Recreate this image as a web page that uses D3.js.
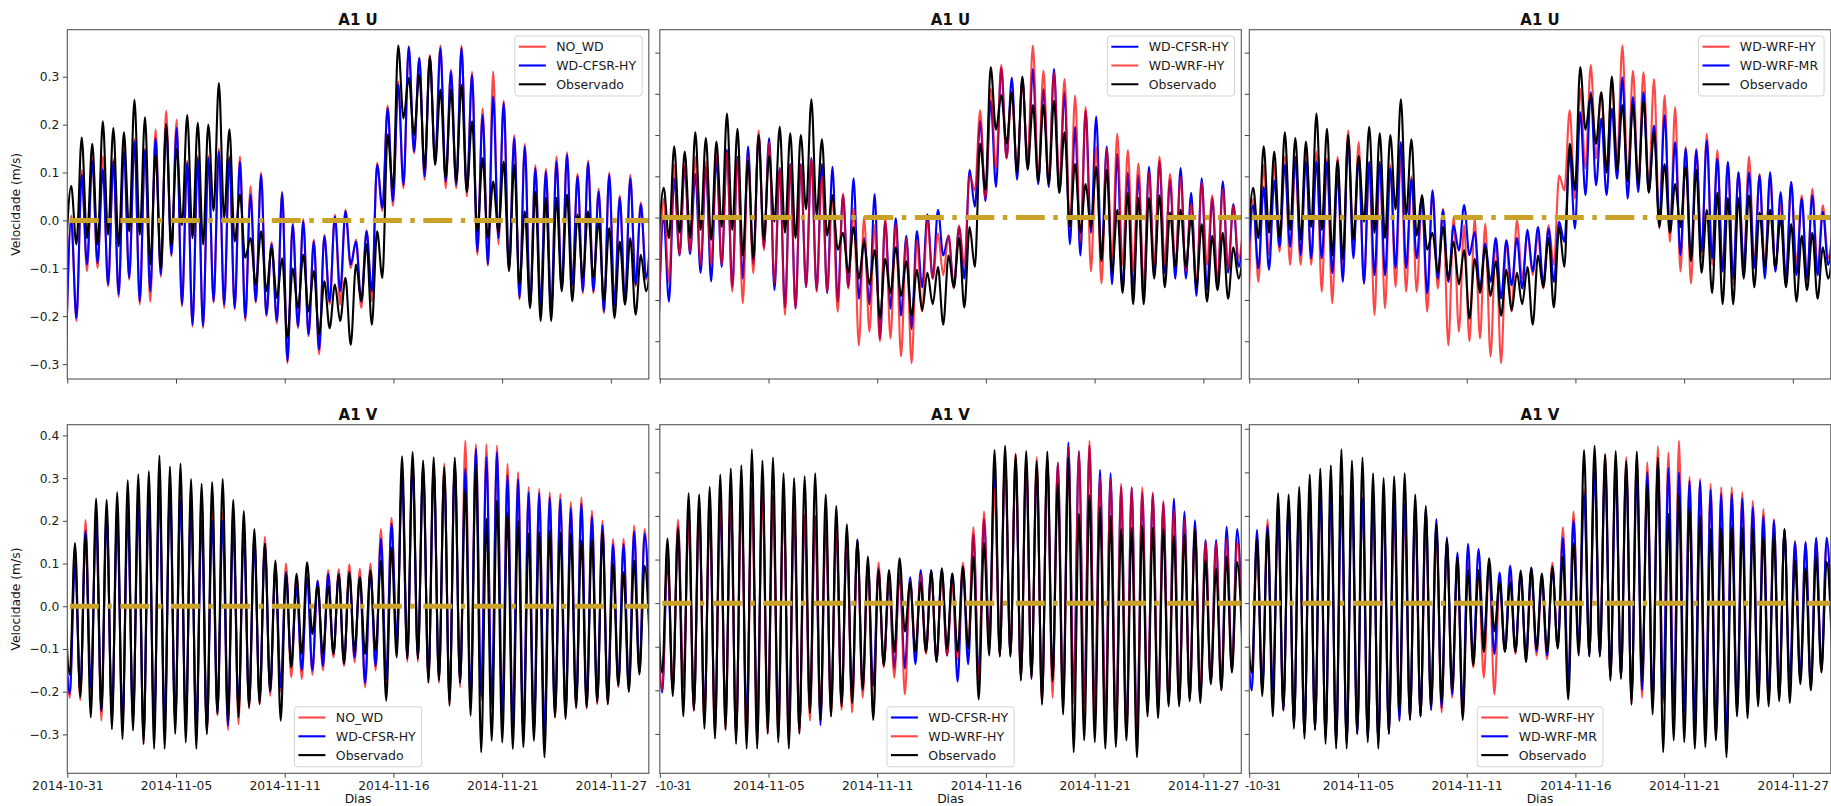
<!DOCTYPE html>
<html>
<head>
<meta charset="utf-8">
<script src="https://cdn.jsdelivr.net/npm/d3@7"></script>
<style>
  body { margin: 0; background: #fff; }
  svg { display: block; font-family: "DejaVu Sans", sans-serif; }
</style>
</head>
<body>
<svg id="chart" width="1831" height="806"></svg>
<script>
// x axis: days since 2014-10-31
const tickDays = [0, 5.333, 10.667, 16, 21.333, 26.667];
const tickLabels = ['2014-10-31', '2014-11-05', '2014-11-11', '2014-11-16', '2014-11-21', '2014-11-27'];
const xEnd = 28.53;
const halfPeriod = 0.2588;          // half an M2 tide, in days (spacing of the extrema)
const uStart = -0.069, vStart = -0.14;
const refLevel = 0;

// ---- U component: troughs (Lo) and crests (Hi), one per tidal cycle ----
const uObsLo = [-0.07,
  -0.05, -0.037, -0.05, -0.03, -0.054, -0.023, -0.03, -0.092, -0.10, -0.054,
  -0.01, -0.037, -0.05, 0.02, 0.005, -0.044, -0.078, -0.134, -0.148, -0.162,
  -0.245, -0.183, -0.19, -0.238, -0.225, -0.21, -0.26, -0.169, -0.218, -0.12,
  0.067, 0.213, 0.179, 0.109, 0.116, 0.088, 0.081, 0.06, -0.023, -0.037,
  -0.023, -0.106, -0.134, -0.183, -0.21, -0.21, -0.148, -0.169, -0.12, -0.12,
  -0.169, -0.204, -0.176, -0.197, -0.148];
const uObsHi = [
  0.072, 0.173, 0.16, 0.207, 0.193, 0.184, 0.252, 0.215, 0.138, 0.2,
  0.15, 0.22, 0.204, 0.2, 0.287, 0.19, 0.054, -0.037, -0.023, -0.058,
  -0.079, -0.1, -0.072, -0.106, -0.127, -0.134, -0.12, -0.092, -0.05, -0.023,
  0.179, 0.365, 0.297, 0.304, 0.342, 0.273, 0.273, 0.283, 0.207, 0.13,
  0.081, 0.123, 0.116, 0.019, 0.06, 0.047, 0.047, 0.054, 0.012, 0.019,
  -0.002, -0.016, -0.044, -0.037, -0.072, -0.06];

const uCfsrLo = [-0.28,
  -0.204, -0.092, -0.089, -0.134, -0.155, -0.12, -0.169, -0.148, -0.113, -0.072,
  -0.176, -0.218, -0.221, -0.169, -0.176, -0.183, -0.204, -0.169, -0.197, -0.21,
  -0.294, -0.221, -0.238, -0.27, -0.169, -0.148, -0.092, -0.169, -0.148, 0.026,
  0.04, 0.074, 0.144, 0.092, 0.123, 0.081, 0.074, 0.06, -0.065, -0.092,
  -0.037, -0.1, -0.162, -0.176, -0.176, -0.19, -0.141, -0.134, -0.148, -0.148,
  -0.19, -0.176, -0.169, -0.134, -0.12];
const uCfsrHi = [
  0.0, 0.095, 0.123, 0.106, 0.123, 0.144, 0.165, 0.147, 0.172, 0.2,
  0.193, 0.12, 0.13, 0.13, 0.144, 0.13, 0.123, 0.054, 0.095, -0.05,
  0.057, -0.009, -0.002, -0.044, -0.033, 0.008, 0.019, -0.044, -0.023, 0.116,
  0.234, 0.283, 0.363, 0.339, 0.339, 0.36, 0.311, 0.36, 0.304, 0.22,
  0.259, 0.245, 0.172, 0.154, 0.109, 0.102, 0.123, 0.137, 0.092, 0.12,
  0.06, 0.095, 0.047, 0.088, 0.033, 0.0];

const uNoWdLo = [-0.29,
  -0.21, -0.106, -0.1, -0.138, -0.16, -0.124, -0.176, -0.17, -0.118, -0.075,
  -0.18, -0.222, -0.225, -0.172, -0.183, -0.186, -0.21, -0.172, -0.2, -0.215,
  -0.298, -0.225, -0.242, -0.28, -0.175, -0.176, -0.1, -0.183, -0.169, 0.02,
  0.03, 0.067, 0.14, 0.085, 0.12, 0.067, 0.067, 0.05, -0.072, -0.095,
  -0.05, -0.105, -0.165, -0.18, -0.18, -0.194, -0.145, -0.138, -0.152, -0.152,
  -0.194, -0.18, -0.172, -0.138, -0.124];
const uNoWdHi = [
  0.01, 0.105, 0.13, 0.134, 0.128, 0.165, 0.17, 0.15, 0.19, 0.229,
  0.21, 0.125, 0.135, 0.135, 0.15, 0.135, 0.134, 0.071, 0.1, -0.045,
  0.06, -0.005, 0.003, -0.04, -0.03, 0.012, 0.022, -0.04, -0.02, 0.12,
  0.24, 0.29, 0.362, 0.34, 0.345, 0.365, 0.315, 0.365, 0.31, 0.234,
  0.311, 0.25, 0.178, 0.16, 0.115, 0.108, 0.134, 0.142, 0.098, 0.125,
  0.066, 0.1, 0.052, 0.095, 0.038, 0.0];

const uWrfHyLo = [-0.29,
  -0.156, -0.091, -0.083, -0.115, -0.115, -0.115, -0.18, -0.208, -0.135, -0.079,
  -0.16, -0.236, -0.22, -0.168, -0.18, -0.18, -0.228, -0.172, -0.31, -0.277,
  -0.30, -0.293, -0.337, -0.353, -0.228, -0.148, -0.14, -0.172, -0.115, 0.066,
  0.046, 0.119, 0.143, 0.119, 0.143, 0.094, 0.086, 0.078, -0.027, -0.059,
  -0.131, -0.16, -0.099, -0.115, -0.131, -0.164, -0.115, -0.115, -0.115, -0.131,
  -0.164, -0.115, -0.156, -0.123, -0.099];
const uWrfHyHi = [
  0.046, 0.127, 0.127, 0.147, 0.135, 0.167, 0.159, 0.143, 0.147, 0.211,
  0.183, 0.119, 0.127, 0.127, 0.143, 0.1, 0.054, 0.058, 0.022, 0.002,
  -0.019, -0.002, -0.015, -0.05, -0.055, -0.006, -0.039, -0.043, -0.019, 0.102,
  0.26, 0.312, 0.37, 0.304, 0.328, 0.417, 0.356, 0.352, 0.336, 0.296,
  0.268, 0.171, 0.167, 0.203, 0.163, 0.131, 0.11, 0.147, 0.106, 0.098,
  0.034, 0.086, 0.054, 0.07, 0.03, 0.0];

const uWrfMrLo = [-0.12,
  -0.123, -0.127, -0.071, -0.071, -0.091, -0.099, -0.099, -0.135, -0.156, -0.099,
  -0.16, -0.14, -0.14, -0.123, -0.123, -0.099, -0.184, -0.148, -0.156, -0.08,
  -0.091, -0.172, -0.156, -0.196, -0.164, -0.172, -0.131, -0.16, -0.156, -0.059,
  -0.027, 0.054, 0.078, 0.054, 0.094, 0.046, 0.062, 0.062, -0.01, -0.035,
  -0.091, -0.099, -0.083, -0.099, -0.131, -0.148, -0.123, -0.123, -0.148, -0.131,
  -0.148, -0.14, -0.148, -0.14, -0.115];
const uWrfMrHi = [
  0.03, 0.074, 0.09, 0.127, 0.147, 0.135, 0.135, 0.135, 0.102, 0.191,
  0.147, 0.135, 0.135, 0.119, 0.183, 0.094, 0.046, 0.066, 0.018, -0.019,
  0.03, -0.035, -0.063, -0.05, -0.055, -0.05, -0.03, -0.023, -0.027, -0.01,
  0.159, 0.256, 0.304, 0.24, 0.264, 0.34, 0.292, 0.304, 0.223, 0.248,
  0.183, 0.167, 0.163, 0.187, 0.143, 0.135, 0.11, 0.11, 0.102, 0.11,
  0.062, 0.086, 0.046, 0.054, 0.014, 0.0];

// ---- V component: crests (Hi) each followed by a trough (Lo) ----
const vObsHi = [0.05,
  0.148, 0.17, 0.252, 0.249, 0.267, 0.295, 0.309, 0.316, 0.353, 0.327,
  0.334, 0.298, 0.287, 0.291, 0.298, 0.249, 0.223, 0.181, 0.146, 0.107,
  0.076, 0.076, 0.103, 0.048, 0.048, 0.075, 0.08, 0.068, 0.084, 0.107,
  0.138, 0.351, 0.361, 0.341, 0.349, 0.326, 0.348, 0.275, 0.334, 0.205,
  0.248, 0.22, 0.2, 0.17, 0.173, 0.177, 0.173, 0.17, 0.154, 0.158,
  0.17, 0.099, 0.08, 0.107, 0.095];
const vObsLo = [-0.16,
  -0.213, -0.26, -0.245, -0.288, -0.311, -0.291, -0.323, -0.334, -0.334, -0.299,
  -0.319, -0.334, -0.299, -0.252, -0.268, -0.26, -0.237, -0.229, -0.198, -0.268,
  -0.143, -0.112, -0.065, -0.112, -0.112, -0.135, -0.104, -0.112, -0.104, -0.221,
  -0.12, -0.123, -0.123, -0.178, -0.174, -0.233, -0.178, -0.256, -0.342, -0.315,
  -0.319, -0.334, -0.33, -0.315, -0.354, -0.26, -0.264, -0.237, -0.237, -0.225,
  -0.229, -0.186, -0.2, -0.159, -0.1];

const vCfsrHi = [0.0,
  0.1, 0.177, 0.2, 0.209, 0.2, 0.216, 0.234, 0.248, 0.267, 0.267,
  0.248, 0.232, 0.2, 0.2, 0.2, 0.185, 0.17, 0.146, 0.146, 0.091,
  0.08, 0.045, 0.068, 0.06, 0.076, 0.076, 0.076, 0.068, 0.08, 0.158,
  0.193, 0.3, 0.33, 0.32, 0.32, 0.31, 0.33, 0.322, 0.369, 0.349,
  0.361, 0.306, 0.298, 0.267, 0.265, 0.255, 0.25, 0.23, 0.24, 0.21,
  0.19, 0.145, 0.145, 0.175, 0.17];
const vCfsrLo = [-0.205,
  -0.2, -0.19, -0.245, -0.25, -0.27, -0.26, -0.303, -0.27, -0.27, -0.27,
  -0.27, -0.28, -0.29, -0.25, -0.28, -0.24, -0.23, -0.22, -0.2, -0.19,
  -0.14, -0.15, -0.15, -0.14, -0.11, -0.13, -0.12, -0.18, -0.14, -0.17,
  -0.08, -0.12, -0.12, -0.17, -0.17, -0.22, -0.18, -0.22, -0.21, -0.23,
  -0.25, -0.28, -0.3, -0.29, -0.3, -0.25, -0.25, -0.23, -0.23, -0.22,
  -0.22, -0.18, -0.19, -0.15, -0.08];

const vNoWdHi = [0.0,
  0.14, 0.202, 0.205, 0.22, 0.22, 0.226, 0.252, 0.252, 0.295, 0.287,
  0.28, 0.26, 0.252, 0.25, 0.22, 0.215, 0.19, 0.163, 0.163, 0.1,
  0.1, 0.07, 0.1, 0.06, 0.085, 0.087, 0.098, 0.088, 0.1, 0.181,
  0.207, 0.3, 0.34, 0.33, 0.33, 0.334, 0.34, 0.388, 0.38, 0.379,
  0.377, 0.334, 0.314, 0.279, 0.275, 0.267, 0.263, 0.244, 0.255, 0.224,
  0.2, 0.158, 0.158, 0.189, 0.181];
const vNoWdLo = [-0.215,
  -0.22, -0.2, -0.268, -0.26, -0.28, -0.27, -0.319, -0.28, -0.28, -0.28,
  -0.28, -0.29, -0.3, -0.256, -0.29, -0.276, -0.24, -0.23, -0.21, -0.2,
  -0.166, -0.17, -0.16, -0.15, -0.12, -0.14, -0.131, -0.19, -0.15, -0.18,
  -0.09, -0.13, -0.13, -0.18, -0.18, -0.23, -0.19, -0.23, -0.22, -0.24,
  -0.26, -0.29, -0.31, -0.3, -0.31, -0.26, -0.26, -0.24, -0.24, -0.23,
  -0.23, -0.19, -0.2, -0.16, -0.09];

const vWrfHyHi = [0.0,
  0.13, 0.192, 0.19, 0.228, 0.24, 0.245, 0.243, 0.25, 0.247, 0.255,
  0.243, 0.24, 0.22, 0.205, 0.2, 0.19, 0.174, 0.16, 0.14, 0.09,
  0.093, 0.07, 0.09, 0.05, 0.065, 0.07, 0.06, 0.044, 0.093, 0.174,
  0.21, 0.262, 0.33, 0.343, 0.33, 0.335, 0.33, 0.323, 0.36, 0.346,
  0.373, 0.289, 0.285, 0.274, 0.266, 0.266, 0.254, 0.235, 0.216, 0.193,
  0.17, 0.143, 0.139, 0.147, 0.14];
const vWrfHyLo = [-0.2,
  -0.194, -0.194, -0.248, -0.28, -0.3, -0.29, -0.305, -0.32, -0.32, -0.3,
  -0.31, -0.32, -0.3, -0.27, -0.267, -0.26, -0.245, -0.251, -0.217, -0.26,
  -0.148, -0.171, -0.209, -0.11, -0.117, -0.133, -0.12, -0.129, -0.1, -0.19,
  -0.11, -0.12, -0.12, -0.175, -0.17, -0.23, -0.217, -0.24, -0.23, -0.25,
  -0.26, -0.28, -0.3, -0.31, -0.32, -0.25, -0.25, -0.23, -0.23, -0.22,
  -0.2, -0.18, -0.2, -0.155, -0.06];

const vWrfMrHi = [0.0,
  0.168, 0.178, 0.2, 0.224, 0.23, 0.254, 0.254, 0.25, 0.247, 0.247,
  0.24, 0.24, 0.23, 0.231, 0.23, 0.224, 0.216, 0.193, 0.151, 0.116,
  0.136, 0.124, 0.086, 0.07, 0.086, 0.067, 0.082, 0.06, 0.08, 0.15,
  0.19, 0.25, 0.3, 0.31, 0.3, 0.31, 0.3, 0.3, 0.32, 0.31,
  0.3, 0.28, 0.28, 0.26, 0.25, 0.25, 0.24, 0.22, 0.2, 0.19,
  0.17, 0.14, 0.14, 0.15, 0.15];
const vWrfMrLo = [-0.2,
  -0.2, -0.2, -0.245, -0.28, -0.3, -0.29, -0.31, -0.32, -0.32, -0.3,
  -0.31, -0.32, -0.3, -0.27, -0.265, -0.26, -0.245, -0.24, -0.21, -0.24,
  -0.13, -0.087, -0.117, -0.11, -0.11, -0.12, -0.11, -0.12, -0.1, -0.18,
  -0.1, -0.12, -0.12, -0.17, -0.17, -0.22, -0.2, -0.23, -0.22, -0.24,
  -0.25, -0.27, -0.29, -0.3, -0.31, -0.24, -0.24, -0.22, -0.22, -0.21,
  -0.18, -0.17, -0.19, -0.15, -0.06];

// layout (px)
const colLeft = [67.3, 659.8, 1249.3];
const stripEdge = [0, 654, 1243.5, 1831];
const plotW = 581.5;
const rowTop = [29.7, 424.7];
const plotH = [349.3, 348.6];

function interleave(a, b) {
  const out = [];
  a.forEach((v, i) => { out.push(v); out.push(b[i]); });
  return out;
}
const toPoints = (vals, start) => vals.map((v, i) => ({ t: start + i * halfPeriod, v }));

const data = {
  'NO_WD':       { color: 'red',   u: toPoints(interleave(uNoWdLo, uNoWdHi), uStart),   v: toPoints(interleave(vNoWdHi, vNoWdLo), vStart) },
  'WD-CFSR-HY':  { color: 'blue',  u: toPoints(interleave(uCfsrLo, uCfsrHi), uStart),   v: toPoints(interleave(vCfsrHi, vCfsrLo), vStart) },
  'WD-WRF-HY':   { color: 'red',   u: toPoints(interleave(uWrfHyLo, uWrfHyHi), uStart), v: toPoints(interleave(vWrfHyHi, vWrfHyLo), vStart) },
  'WD-WRF-MR':   { color: 'blue',  u: toPoints(interleave(uWrfMrLo, uWrfMrHi), uStart), v: toPoints(interleave(vWrfMrHi, vWrfMrLo), vStart) },
  'Observado':   { color: 'black', u: toPoints(interleave(uObsLo, uObsHi), uStart),     v: toPoints(interleave(vObsHi, vObsLo), vStart) },
};

const panels = [
  { row: 0, col: 0, comp: 'u', title: 'A1 U', names: ['NO_WD', 'WD-CFSR-HY', 'Observado'], legend: 'upper right' },
  { row: 0, col: 1, comp: 'u', title: 'A1 U', names: ['WD-CFSR-HY', 'WD-WRF-HY', 'Observado'], legend: 'upper right' },
  { row: 0, col: 2, comp: 'u', title: 'A1 U', names: ['WD-WRF-HY', 'WD-WRF-MR', 'Observado'], legend: 'upper right' },
  { row: 1, col: 0, comp: 'v', title: 'A1 V', names: ['NO_WD', 'WD-CFSR-HY', 'Observado'], legend: 'lower center' },
  { row: 1, col: 1, comp: 'v', title: 'A1 V', names: ['WD-CFSR-HY', 'WD-WRF-HY', 'Observado'], legend: 'lower center' },
  { row: 1, col: 2, comp: 'v', title: 'A1 V', names: ['WD-WRF-HY', 'WD-WRF-MR', 'Observado'], legend: 'lower center' },
];

const svg = d3.select('#chart');
const defs = svg.append('defs');
const fontSize = 12.3;
const lineW = 2.1;

// each column was a separate figure strip: clip anything that spills into the neighbour
[0, 1, 2].forEach(c => {
  defs.append('clipPath').attr('id', 'strip' + c)
    .append('rect').attr('x', stripEdge[c]).attr('y', 0)
    .attr('width', stripEdge[c + 1] - stripEdge[c]).attr('height', 806);
});

const x = d3.scaleLinear().domain([0, xEnd]).range([0, plotW]);

panels.forEach((p, idx) => {
  const h = plotH[p.row];
  const strip = svg.append('g').attr('clip-path', `url(#strip${p.col})`);
  const g = strip.append('g').attr('transform', `translate(${colLeft[p.col]},${rowTop[p.row]})`);

  const allVals = p.names.flatMap(n => data[n][p.comp].map(d => d.v));
  const [lo, hi] = d3.extent(allVals);
  const pad = (hi - lo) * 0.05;
  const y = d3.scaleLinear().domain([lo - pad, hi + pad]).range([h, 0]);

  defs.append('clipPath').attr('id', 'plot' + idx)
    .append('rect').attr('width', plotW).attr('height', h);

  const lines = g.append('g').attr('clip-path', `url(#plot${idx})`);
  const lineGen = d3.line().x(d => x(d.t)).y(d => y(d.v)).curve(d3.curveMonotoneX);

  p.names.forEach(n => {
    lines.append('path')
      .datum(data[n][p.comp])
      .attr('d', lineGen)
      .attr('fill', 'none')
      .attr('stroke', data[n].color)
      .attr('stroke-opacity', data[n].color === 'red' ? 0.72 : 1)
      .attr('stroke-width', lineW)
      .attr('stroke-linejoin', 'round');
  });

  // reference level
  lines.append('line')
    .attr('x1', x(0)).attr('x2', x(xEnd))
    .attr('y1', y(refLevel)).attr('y2', y(refLevel))
    .attr('stroke', '#c9a227')
    .attr('stroke-width', 5)
    .attr('stroke-dasharray', '29,8.5,4.5,8.5')
    .attr('stroke-dashoffset', -2.5);

  // axes; in the 2nd and 3rd strips only the tail of the first date survives the cut
  const xLabel = (d, i) => {
    if (p.row !== 1) return '';
    return (p.col > 0 && i === 0) ? '' : tickLabels[i];
  };
  const xAxis = d3.axisBottom(x).tickValues(tickDays).tickSize(4.5).tickPadding(3.5).tickFormat(xLabel);
  const yAxis = d3.axisLeft(y).ticks(8).tickSize(4.5).tickPadding(3.5)
    .tickFormat(p.col === 0 ? d3.format('.1f') : () => '');

  const gx = g.append('g').attr('transform', `translate(0,${h})`).call(xAxis);
  const gy = g.append('g').call(yAxis);
  [gx, gy].forEach(a => {
    a.select('.domain').remove();
    a.selectAll('.tick line').attr('stroke', '#444').attr('stroke-width', 1);
    a.selectAll('.tick text').attr('fill', '#1a1a1a')
      .style('font-size', fontSize + 'px').style('font-family', '"DejaVu Sans", sans-serif');
  });
  if (p.row === 1 && p.col > 0) {
    gx.append('text')
      .attr('x', stripEdge[p.col] - colLeft[p.col] + 1.5).attr('y', 8)
      .attr('dy', '0.71em').attr('text-anchor', 'start')
      .attr('fill', '#1a1a1a').style('font-size', fontSize + 'px')
      .text(tickLabels[0].slice(4));
  }

  // spines
  g.append('rect').attr('width', plotW).attr('height', h)
    .attr('fill', 'none').attr('stroke', '#555').attr('stroke-width', 1.1);

  // title
  g.append('text').attr('x', plotW / 2).attr('y', -5)
    .attr('text-anchor', 'middle').attr('font-weight', 'bold')
    .style('font-size', '15px').attr('fill', '#111').text(p.title);

  if (p.row === 1) {
    g.append('text').attr('x', plotW / 2).attr('y', h + 30)
      .attr('text-anchor', 'middle').style('font-size', fontSize + 'px')
      .attr('fill', '#111').text('Dias');
  }
  if (p.col === 0) {
    g.append('text')
      .attr('transform', `translate(${-47},${h / 2}) rotate(-90)`)
      .attr('text-anchor', 'middle').style('font-size', fontSize + 'px')
      .attr('fill', '#111').text('Velocidade (m/s)');
  }

  // legend
  const leg = g.append('g');
  const box = leg.append('rect').attr('rx', 3).attr('fill', 'white').attr('fill-opacity', 0.85)
    .attr('stroke', '#d3d3d3').attr('stroke-width', 1);
  let maxW = 0;
  p.names.forEach((n, i) => {
    const yy = 10.7 + i * 18.8;
    leg.append('line').attr('x1', 4).attr('x2', 31).attr('y1', yy).attr('y2', yy)
      .attr('stroke', data[n].color).attr('stroke-opacity', data[n].color === 'red' ? 0.72 : 1)
      .attr('stroke-width', lineW);
    const t = leg.append('text').attr('x', 41.4).attr('y', yy).attr('dy', '0.36em')
      .style('font-size', '12.5px').attr('fill', '#1a1a1a').text(n);
    maxW = Math.max(maxW, t.node().getComputedTextLength());
  });
  const bw = 41.4 + maxW + 6, bh = 60;
  box.attr('width', bw).attr('height', bh);
  if (p.legend === 'upper right') {
    leg.attr('transform', `translate(${plotW - 6.7 - bw},6.3)`);
  } else {
    leg.attr('transform', `translate(${(plotW - bw) / 2},${h - 6.5 - bh})`);
  }
});
</script>
</body>
</html>
